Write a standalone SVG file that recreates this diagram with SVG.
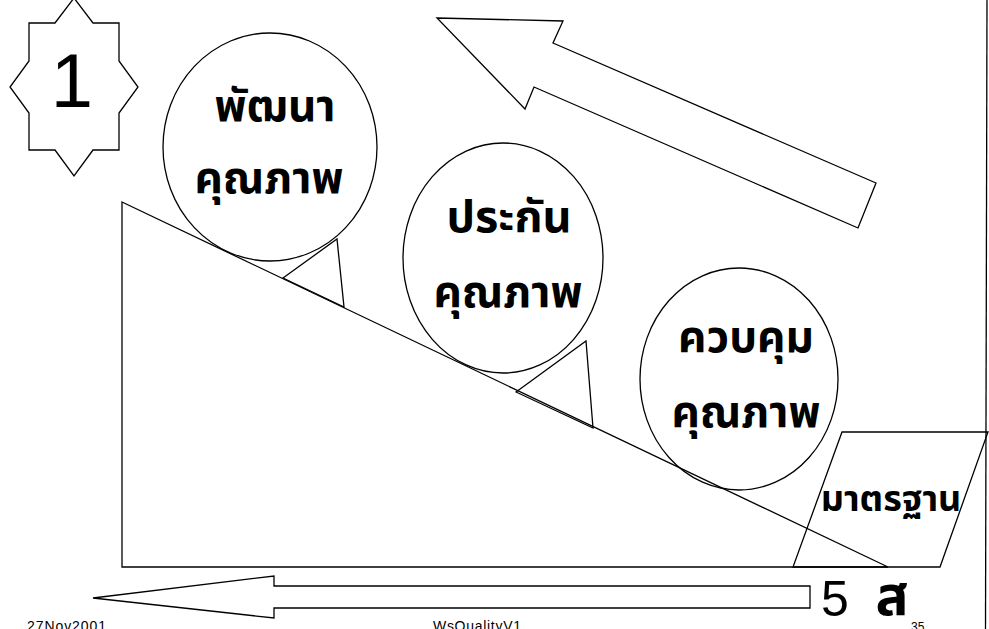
<svg xmlns="http://www.w3.org/2000/svg" width="989" height="629" viewBox="0 0 989 629">
<style>
.s{fill:none;stroke:#000;stroke-width:1.3;stroke-linejoin:miter}
.w{fill:#fff;stroke:#000;stroke-width:1.3}
.th{font-family:"Noto Sans Thai","Noto Sans","DejaVu Sans",sans-serif;font-weight:bold;fill:#000;text-anchor:middle}
.lat{font-family:"Liberation Sans",Arial,sans-serif;fill:#000}
</style>
<rect width="989" height="629" fill="#fff"/>
<g id="frame">
<line class="s" x1="987" y1="0" x2="985.5" y2="629"/>
</g>
<g id="star">
<polygon class="w" points="74,-2 93,23 119,23 119,61 138,87 119,113 119,150 93,150 74,176 55,150 29,150 29,113 10,87 29,61 29,23 55,23"/>
<text class="lat" x="72" y="107" font-size="76" text-anchor="middle">1</text>
</g>
<g id="up-arrow">
<polygon class="s" points="437,18 563,21 553,43 876,183 858,228 534,87 525,109"/>
</g>
<g id="slope">
<polygon class="s" points="122,202 888,567 122,567"/>
</g>
<g id="standard">
<polygon class="s" points="842,432 988,432 940,567 793,567"/>
<text class="th" x="891" y="511" font-size="36">มาตรฐาน</text>
</g>
<g id="wedges">
<polygon class="s" points="283,278 337,239 344,307"/>
<polygon class="s" points="516,392 586,341 593,428"/>
</g>
<g id="develop">
<ellipse class="s" cx="270" cy="147" rx="107" ry="114"/>
<text class="th" x="275" y="121" font-size="44">พัฒนา</text>
<text class="th" x="269" y="193" font-size="44">คุณภาพ</text>
</g>
<g id="assure">
<ellipse class="s" cx="503" cy="258" rx="100" ry="115"/>
<text class="th" x="509" y="232" font-size="45">ประกัน</text>
<text class="th" x="508" y="307" font-size="44">คุณภาพ</text>
</g>
<g id="control">
<ellipse class="s" cx="739" cy="379" rx="99" ry="111"/>
<text class="th" x="746" y="352" font-size="44">ควบคุม</text>
<text class="th" x="746" y="427" font-size="44">คุณภาพ</text>
</g>
<g id="left-arrow">
<polygon class="s" points="93,598 274,576 274,586 810,586 810,608 274,608 274,618"/>
</g>
<g id="fives">
<text class="lat" x="821" y="616" font-size="50">5</text>
<text class="th" x="892" y="615" font-size="55">ส</text>
</g>
<g id="footer">
<text class="lat" x="27" y="631" font-size="14" textLength="79">27Nov2001</text>
<text class="lat" x="433" y="631" font-size="14" textLength="88">WsQualityV1</text>
<text class="lat" x="911" y="631" font-size="12">35</text>
</g>
</svg>
